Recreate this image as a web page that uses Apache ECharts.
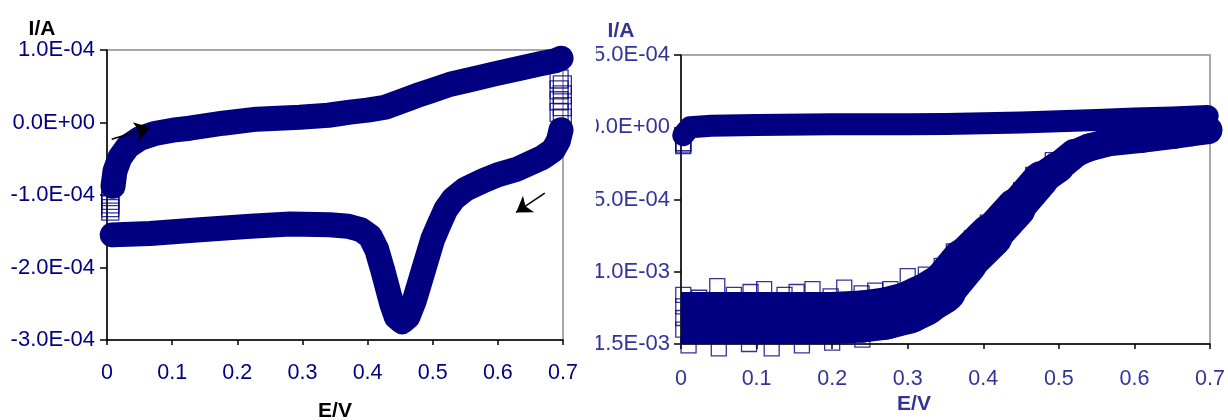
<!DOCTYPE html>
<html><head><meta charset="utf-8">
<script src="https://cdn.jsdelivr.net/npm/echarts@6/dist/echarts.min.js"></script>
<style>
html,body{margin:0;padding:0;background:#fff;width:1228px;height:420px;overflow:hidden}
#left{position:absolute;left:0;top:0;width:596px;height:420px}
#right{position:absolute;left:596px;top:0;width:632px;height:420px}
</style>
</head><body><div id="left"></div><div id="right"></div>
<script>
// ---------- tick labels ----------
const xTickLabels = ['0','0.1','0.2','0.3','0.4','0.5','0.6','0.7'];
const leftYTickLabels = ['-3.0E-04','-2.0E-04','-1.0E-04','0.0E+00','1.0E-04'];
const rightYTickLabels = ['-1.5E-03','-1.0E-03','-5.0E-04','0.0E+00','5.0E-04'];

// ---------- left chart (E/V, I/A) ----------
const leftFwdE = [0.0092,0.0123,0.020,0.0322,0.0507,0.0752,0.101,0.127,0.178,0.230,0.296,0.34,0.373,0.40,0.427,0.45,0.475,0.496,0.527,0.557,0.595,0.634,0.665,0.688,0.697];
const leftFwdI = [-0.88e-4,-0.67e-4,-0.48e-4,-0.33e-4,-0.22e-4,-0.148e-4,-0.106e-4,-0.079e-4,-0.01e-4,0.046e-4,0.073e-4,0.1e-4,0.142e-4,0.17e-4,0.211e-4,0.287e-4,0.37e-4,0.432e-4,0.528e-4,0.59e-4,0.67e-4,0.749e-4,0.81e-4,0.852e-4,0.887e-4];
const leftRevE = [0.697,0.693,0.685,0.669,0.629,0.60,0.577,0.55,0.532,0.52,0.51,0.50,0.485,0.472,0.462,0.453,0.444,0.437,0.424,0.414,0.404,0.39,0.37,0.342,0.281,0.22,0.143,0.066,0.008];
const leftRevI = [-0.1e-4,-0.25e-4,-0.38e-4,-0.48e-4,-0.645e-4,-0.72e-4,-0.805e-4,-0.92e-4,-1.05e-4,-1.2e-4,-1.4e-4,-1.61e-4,-2.06e-4,-2.45e-4,-2.68e-4,-2.75e-4,-2.68e-4,-2.5e-4,-2.06e-4,-1.75e-4,-1.57e-4,-1.48e-4,-1.43e-4,-1.41e-4,-1.40e-4,-1.43e-4,-1.48e-4,-1.53e-4,-1.55e-4];
const leftStackAE = [0.005,0.005,0.005,0.005,0.005];
const leftStackAI = [-1.03e-4,-1.08e-4,-1.13e-4,-1.18e-4,-1.23e-4];
const leftStackBE = [0.694,0.699,0.694,0.699,0.694,0.699,0.694,0.699];
const leftStackBI = [0.6e-4,0.52e-4,0.45e-4,0.38e-4,0.3e-4,0.22e-4,0.14e-4,0.06e-4];
const leftArrows = [[[0.0072,-0.23e-4],[0.066,-0.069e-4]],[[0.672,-0.975e-4],[0.628,-1.24e-4]]];

// ---------- right chart ----------
const rightUpE = [0.003,0.012,0.04,0.1,0.2,0.3,0.35,0.45,0.55,0.6,0.65,0.697];
const rightUpI = [-0.55e-4,0.0,0.1e-4,0.16e-4,0.2e-4,0.21e-4,0.22e-4,0.33e-4,0.5e-4,0.6e-4,0.68e-4,0.78e-4];
const rightLowE = [0.0,0.05,0.1,0.15,0.2,0.24,0.27,0.3,0.32,0.345,0.375,0.41,0.443,0.476,0.499,0.52,0.54,0.565,0.61,0.652,0.675,0.698];
const rightLowI = [-13.2e-4,-13.2e-4,-13.2e-4,-13.2e-4,-13.2e-4,-13.1e-4,-12.9e-4,-12.5e-4,-12.0e-4,-11.2e-4,-9.3e-4,-7.5e-4,-5.6e-4,-3.6e-4,-2.75e-4,-1.85e-4,-1.4e-4,-1.05e-4,-0.8e-4,-0.53e-4,-0.35e-4,-0.2e-4];
const rightSqE = [0.003,0.024,0.048,0.07,0.092,0.11,0.137,0.153,0.174,0.198,0.216,0.239,0.257,0.277,
                  0.30,0.324,0.345,0.361,0.385,0.406,0.422,0.45,0.466,0.492,
                  0.01,0.05,0.09,0.12,0.16,0.2,0.24,
                  0.003,0.003,0.003];
const rightSqI = [-11.6e-4,-11.8e-4,-11.0e-4,-11.6e-4,-11.4e-4,-11.2e-4,-11.6e-4,-11.4e-4,-11.2e-4,-11.7e-4,-11.1e-4,-11.5e-4,-11.3e-4,-11.2e-4,
                  -10.3e-4,-10.2e-4,-9.6e-4,-8.6e-4,-7.7e-4,-6.6e-4,-6.0e-4,-4.35e-4,-3.3e-4,-2.27e-4,
                  -15.1e-4,-15.3e-4,-15.0e-4,-15.3e-4,-15.1e-4,-14.9e-4,-14.7e-4,
                  -12.4e-4,-13.2e-4,-14.0e-4];
const rightStackE = [0.003,0.003,0.003];
const rightStackI = [-1.1e-4,-1.2e-4,-1.3e-4];

// ---------- style (band thickness of the scatter cloud, px, per segment) ----------
const rightLowBandWidth = [52,52,52,52,52,52,52,52,50,47,44,40,36,32,30,28,28,28,28,28,28];

// ---------- helpers ----------
const zip = (a, b) => a.map((v, i) => [v, b[i]]);
const NAVY = '#000080';
const FONT = '"Liberation Sans", Arial, sans-serif';

function lineSeries(data, w, cap) {
  return {type:'line', data: data, symbol:'none', showSymbol:false, clip:false, silent:true,
    lineStyle:{color:NAVY, width:w, cap:cap || 'round', join:'round'}, z:2};
}
function bandSegments(E, I, widths) {
  const pts = zip(E, I), out = [];
  for (let i = 0; i < pts.length - 1; i++) {
    out.push(lineSeries([pts[i], pts[i + 1]], widths[i], i === 0 ? 'butt' : 'round'));
  }
  return out;
}
function squareSeries(E, I, size) {
  return {type:'scatter', data: zip(E, I), symbol:'rect', symbolSize:size, clip:false, silent:true,
    itemStyle:{color:'rgba(0,0,0,0)', borderColor:NAVY, borderWidth:1.3}, z:3};
}
function axes(yMin, yMax, yInt, yLabels, labelColor, xMargin, yMargin) {
  return {
    xAxis: {type:'value', min:0, max:0.7, interval:0.1,
      axisLine:{show:true, onZero:false, lineStyle:{color:'#000', width:1.5}},
      axisTick:{show:true, length:5, lineStyle:{color:'#000', width:1.5}},
      splitLine:{show:false},
      axisLabel:{color:labelColor, fontSize:21.5, fontFamily:FONT, margin:xMargin,
        formatter:(v, i) => xTickLabels[i]}},
    yAxis: {type:'value', min:yMin, max:yMax, interval:yInt,
      axisLine:{show:true, onZero:false, lineStyle:{color:'#000', width:1.5}},
      axisTick:{show:true, length:7, lineStyle:{color:'#000', width:1.5}},
      splitLine:{show:false},
      axisLabel:{color:labelColor, fontSize:22, fontFamily:FONT, margin:yMargin,
        formatter:(v, i) => yLabels[i]}}
  };
}
function title(text, x, y, color) {
  return {type:'text', x:x, y:y, silent:true,
    style:{text:text, font:'bold 21px ' + FONT, fill:color,
      textAlign:'center', textVerticalAlign:'middle', align:'center', verticalAlign:'middle'}};
}

// ---------- left chart ----------
const left = echarts.init(document.getElementById('left'), null, {renderer:'canvas'});
const la = axes(-3e-4, 1e-4, 1e-4, leftYTickLabels, NAVY, 22, 12);
const fwd = lineSeries(zip(leftFwdE, leftFwdI), 25);
fwd.markLine = {silent:true, symbol:['none','arrow'], symbolSize:15, label:{show:false},
  lineStyle:{color:'#000', width:1.6, type:'solid'}, emphasis:{disabled:true},
  data: leftArrows.map(a => [{coord:a[0]}, {coord:a[1]}])};
left.setOption({
  animation:false, backgroundColor:'#fff',
  grid:{left:107, top:50, width:456, height:290, show:true, borderColor:'#8c8c8c', borderWidth:1.5,
    containLabel:false, outerBoundsMode:'none'},
  xAxis: la.xAxis, yAxis: la.yAxis,
  graphic:[title('I/A', 42, 29, '#000'), title('E/V', 335, 411, '#000')],
  series:[fwd, lineSeries(zip(leftRevE, leftRevI), 25),
    squareSeries(leftStackAE, leftStackAI, 17), squareSeries(leftStackBE, leftStackBI, 18)]
});

// ---------- right chart ----------
const RC = '#33339a';
const right = echarts.init(document.getElementById('right'), null, {renderer:'canvas'});
const ra = axes(-1.5e-3, 5e-4, 5e-4, rightYTickLabels, RC, 24, 11);
right.setOption({
  animation:false, backgroundColor:'#fff',
  grid:{left:85, top:55, width:529, height:289, show:true, borderColor:'#8c8c8c', borderWidth:1.5,
    containLabel:false, outerBoundsMode:'none'},
  xAxis: ra.xAxis, yAxis: ra.yAxis,
  graphic:[title('I/A', 25, 31, RC), title('E/V', 318, 404, RC)],
  series:[lineSeries(zip(rightUpE, rightUpI), 22)]
    .concat(bandSegments(rightLowE, rightLowI, rightLowBandWidth))
    .concat([squareSeries(rightSqE, rightSqI, 15), squareSeries(rightStackE, rightStackI, 15)])
});
</script>
</body></html>
